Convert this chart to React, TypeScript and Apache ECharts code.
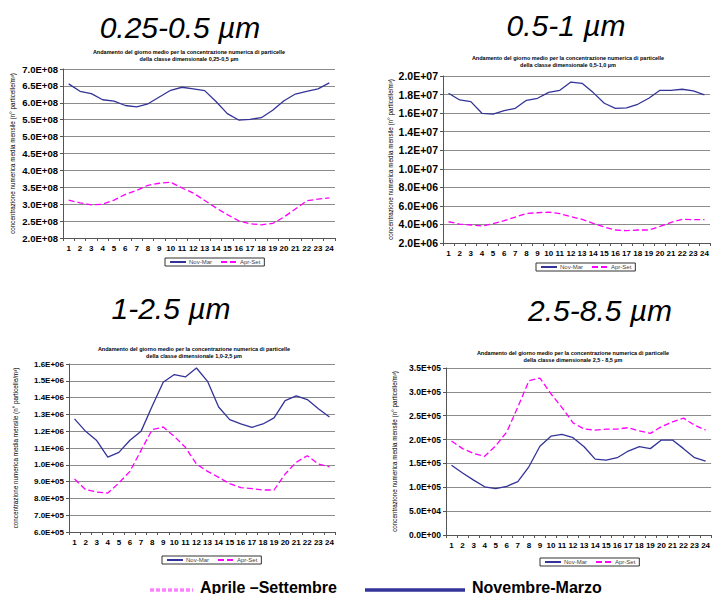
import React, { useEffect, useRef } from "react";
import * as echarts from "echarts";

const hours = ["1","2","3","4","5","6","7","8","9","10","11","12","13","14","15","16","17","18","19","20","21","22","23","24"];

// Panel 1: 0.25-0.5 µm (values in units of 1E+08)
const p1NovMar = [6.56,6.34,6.27,6.09,6.05,5.92,5.88,5.97,6.17,6.37,6.46,6.41,6.36,6.04,5.68,5.49,5.51,5.56,5.78,6.06,6.26,6.34,6.41,6.59];
const p1AprSet = [3.12,3.04,2.98,3.00,3.12,3.29,3.41,3.56,3.62,3.65,3.48,3.33,3.11,2.89,2.69,2.51,2.42,2.39,2.43,2.62,2.86,3.10,3.15,3.19];
// Panel 2: 0.5-1 µm (units of 1E+06)
const p2NovMar = [18.14,17.42,17.24,15.98,15.88,16.27,16.52,17.38,17.6,18.24,18.46,19.35,19.21,18.21,17.06,16.52,16.56,16.95,17.6,18.46,18.46,18.57,18.39,17.96];
const p2AprSet = [4.29,4.04,3.94,3.83,4.08,4.40,4.80,5.19,5.26,5.33,5.16,4.83,4.55,4.12,3.72,3.40,3.33,3.40,3.40,3.79,4.22,4.55,4.51,4.51];
// Panel 3: 1-2.5 µm (units of 1E+05)
const p3NovMar = [12.73,11.99,11.44,10.46,10.74,11.46,11.99,13.48,14.91,15.37,15.23,15.76,14.97,13.44,12.69,12.43,12.23,12.43,12.79,13.82,14.1,13.88,13.34,12.85];
const p3AprSet = [9.15,8.52,8.38,8.32,8.92,9.61,10.86,12.09,12.25,11.69,11.04,10.05,9.61,9.25,8.88,8.64,8.58,8.5,8.5,9.45,10.15,10.54,10.05,9.87];
// Panel 4: 2.5-8.5 µm (units of 1E+05)
const p4NovMar = [1.46,1.30,1.15,1.01,0.97,1.02,1.12,1.43,1.86,2.07,2.11,2.04,1.85,1.59,1.57,1.62,1.76,1.85,1.81,1.99,1.99,1.81,1.62,1.55];
const p4AprSet = [1.97,1.81,1.71,1.65,1.87,2.16,2.68,3.23,3.29,2.96,2.67,2.35,2.22,2.20,2.22,2.22,2.25,2.18,2.13,2.27,2.37,2.45,2.30,2.20];

const panelHeadings = ["0.25-0.5 \u00b5m", "0.5-1 \u00b5m", "1-2.5 \u00b5m", "2.5-8.5 \u00b5m"];
const panelClasses = ["0,25-0,5 \u00b5m", "0,5-1,0 \u00b5m", "1,0-2,5 \u00b5m", "2,5 - 8,5 \u00b5m"];
const titleLine1 = "Andamento del giorno medio per la concentrazione numerica di particelle";
const yName = "concentrazione numerica media mensile (n\u00b0 particelle/m\u00b3)";
const seriesNames = ["Nov-Mar", "Apr-Set"];
const bottomLabels = ["Aprile \u2013Settembre", "Novembre-Marzo"];

const NAVY = "#333399";
const MAGENTA = "#FF00FF";
const FONT = "Liberation Sans, Arial, sans-serif";

function fmt(v: number): string {
  if (v === 0) return "0.0E+00";
  let e = Math.floor(Math.log10(Math.abs(v)) + 1e-9);
  let m = v / Math.pow(10, e);
  if (Number(m.toFixed(1)) >= 10) { m /= 10; e += 1; }
  return m.toFixed(1) + "E+" + (e < 10 ? "0" + e : String(e));
}

export default function App() {
  const ref = useRef<HTMLDivElement>(null);
  useEffect(() => {
    if (!ref.current) return;
    const chart = echarts.init(ref.current, null, { renderer: "svg" });

    const panels = [
      { grid: { left: 63, top: 69, width: 272, height: 169 }, min: 2e8, max: 7e8, interval: 0.5e8, scale: 1e8, nov: p1NovMar, apr: p1AprSet, yFont: 9.5, nameGap: 48,
        head: { x: 180, y: 27 }, title: { x: 189, y: 55.5 }, legend: { left: 165, top: 258 } },
      { grid: { left: 443, top: 76, width: 267, height: 167 }, min: 2e6, max: 2e7, interval: 2e6, scale: 1e6, nov: p2NovMar, apr: p2AprSet, yFont: 10.5, nameGap: 50,
        head: { x: 566, y: 25 }, title: { x: 568, y: 61.5 }, legend: { left: 536, top: 263 } },
      { grid: { left: 69, top: 364, width: 266, height: 168 }, min: 6e5, max: 1.6e6, interval: 1e5, scale: 1e5, nov: p3NovMar, apr: p3AprSet, yFont: 8, nameGap: 51,
        head: { x: 171, y: 308 }, title: { x: 194, y: 352.5 }, legend: { left: 162, top: 556 } },
      { grid: { left: 446, top: 368, width: 268, height: 167 }, min: 0, max: 3.5e5, interval: 5e4, scale: 1e5, nov: p4NovMar, apr: p4AprSet, yFont: 8.5, nameGap: 49,
        head: { x: 600, y: 310 }, title: { x: 573, y: 356.5 }, legend: { left: 540, top: 558 } },
    ];

    const grids: any[] = [];
    const xAxes: any[] = [];
    const yAxes: any[] = [];
    const series: any[] = [];
    const legends: any[] = [];
    const graphics: any[] = [];

    panels.forEach((p, i) => {
      grids.push({ ...p.grid, containLabel: false });
      xAxes.push({
        type: "category", gridIndex: i, data: hours, boundaryGap: true,
        axisLine: { lineStyle: { color: "#555", width: 1 } },
        axisTick: { show: true, alignWithLabel: false, length: 3, lineStyle: { color: "#555" } },
        axisLabel: { fontSize: 8, fontWeight: "bold", color: "#000", margin: 6, interval: 0, fontFamily: FONT },
        splitLine: { show: false },
      });
      yAxes.push({
        type: "value", gridIndex: i, min: p.min, max: p.max, interval: p.interval,
        axisLine: { show: true, lineStyle: { color: "#555", width: 1 } },
        axisTick: { show: true, length: 3, lineStyle: { color: "#555" } },
        axisLabel: { fontSize: p.yFont, fontWeight: "bold", color: "#000", margin: 5, formatter: (v: number) => fmt(v), fontFamily: FONT },
        splitLine: { show: true, lineStyle: { color: "#8c8c8c", width: 1 } },
        name: yName, nameLocation: "middle", nameRotate: 90, nameGap: p.nameGap,
        nameTextStyle: { fontSize: 6.3, color: "#000", fontFamily: FONT },
      });
      series.push({
        name: seriesNames[0], type: "line", xAxisIndex: i, yAxisIndex: i,
        data: p.nov.map((v) => v * p.scale), symbol: "none", showSymbol: false, smooth: false,
        lineStyle: { color: NAVY, width: 1.3 }, itemStyle: { color: NAVY },
      });
      series.push({
        name: seriesNames[1], type: "line", xAxisIndex: i, yAxisIndex: i,
        data: p.apr.map((v) => v * p.scale), symbol: "none", showSymbol: false, smooth: false,
        lineStyle: { color: MAGENTA, width: 1.3, type: [6, 3] }, itemStyle: { color: MAGENTA },
      });
      legends.push({
        data: seriesNames, left: p.legend.left, top: p.legend.top, orient: "horizontal",
        itemWidth: 16, itemHeight: 6, itemGap: 8, padding: [1, 4], selectedMode: false,
        borderColor: "#333", borderWidth: 1, backgroundColor: "#fff",
        itemStyle: { color: "rgba(0,0,0,0)", borderWidth: 0, opacity: 0 },
        textStyle: { fontSize: 6, color: "#444", fontFamily: FONT, padding: [0, 0, 0, -2] },
      });
      graphics.push({
        type: "text", x: p.head.x, y: p.head.y,
        style: { text: panelHeadings[i], fontSize: 30, fontStyle: "italic", fontFamily: FONT, fill: "#000", align: "center", verticalAlign: "middle" },
      });
      graphics.push({
        type: "text", x: p.title.x, y: p.title.y,
        style: { text: titleLine1 + "\ndella classe dimensionale " + panelClasses[i], fontSize: 5.5, fontWeight: "bold", lineHeight: 7.5, fontFamily: FONT, fill: "#000", align: "center", verticalAlign: "middle" },
      });
    });

    graphics.push({ type: "line", shape: { x1: 150, y1: 590, x2: 193, y2: 590 }, style: { stroke: "#FF80FF", lineWidth: 3.5, lineDash: [4, 2] } });
    graphics.push({ type: "text", x: 200, y: 587, style: { text: bottomLabels[0], fontSize: 16, fontWeight: "bold", fontFamily: FONT, fill: "#000", align: "left", verticalAlign: "middle" } });
    graphics.push({ type: "line", shape: { x1: 365, y1: 590, x2: 465, y2: 590 }, style: { stroke: NAVY, lineWidth: 3.5 } });
    graphics.push({ type: "text", x: 472, y: 587, style: { text: bottomLabels[1], fontSize: 16, fontWeight: "bold", fontFamily: FONT, fill: "#000", align: "left", verticalAlign: "middle" } });

    chart.setOption({
      animation: false,
      backgroundColor: "#fff",
      grid: grids,
      xAxis: xAxes,
      yAxis: yAxes,
      series,
      legend: legends,
      graphic: graphics,
    });
    return () => chart.dispose();
  }, []);
  return <div ref={ref} style={{ position: "fixed", left: 0, top: 0, width: 713, height: 594 }} />;
}
